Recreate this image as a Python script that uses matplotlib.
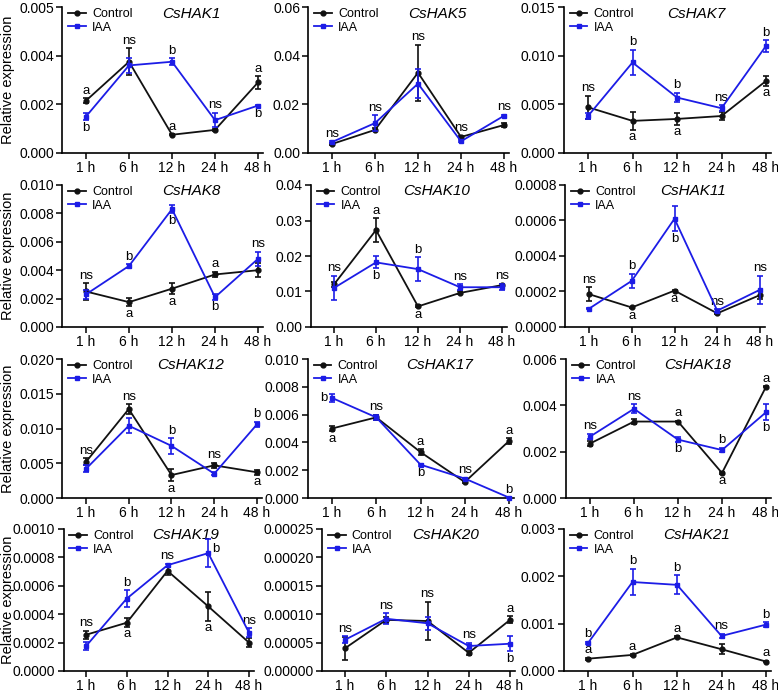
import matplotlib
matplotlib.use("Agg")
import matplotlib.pyplot as plt
from matplotlib.lines import Line2D
import numpy as np

plt.rcParams['font.family'] = ['Liberation Sans', 'DejaVu Sans']

times = ["1 h", "6 h", "12 h", "24 h", "48 h"]

# mean and SD: control (c) and IAA (i)
hak1_c = [0.00215, 0.00375, 0.00075, 0.00095, 0.0029]
hak1_c_sd = [0.0001, 0.00055, 0.00003, 0.00003, 0.00025]
hak1_i = [0.0015, 0.0036, 0.00375, 0.00135, 0.00195]
hak1_i_sd = [0.00015, 0.0003, 0.00015, 0.0003, 0.00003]
hak1_ticks = ["0.000", "0.002", "0.004", "0.005"]

hak5_c = [0.0037, 0.0095, 0.033, 0.0066, 0.0115]
hak5_c_sd = [0.0004, 0.0006, 0.0115, 0.0005, 0.001]
hak5_i = [0.0045, 0.0123, 0.0285, 0.0048, 0.0153]
hak5_i_sd = [0.0004, 0.0033, 0.006, 0.0004, 0.0004]
hak5_ticks = ["0.00", "0.02", "0.04", "0.06"]

hak7_c = [0.0047, 0.0033, 0.0035, 0.0038, 0.0074]
hak7_c_sd = [0.0012, 0.0009, 0.0006, 0.0004, 0.0005]
hak7_i = [0.0038, 0.0093, 0.0057, 0.0046, 0.011]
hak7_i_sd = [0.0003, 0.0013, 0.0005, 0.0003, 0.0006]
hak7_ticks = ["0.000", "0.005", "0.010", "0.015"]

hak8_c = [0.0025, 0.00175, 0.0027, 0.0037, 0.004]
hak8_c_sd = [0.0006, 0.0003, 0.0004, 0.0002, 0.0005]
hak8_i = [0.0023, 0.0043, 0.0083, 0.0021, 0.0048]
hak8_i_sd = [0.0003, 0.00012, 0.0003, 0.0002, 0.0005]
hak8_ticks = ["0.000", "0.002", "0.004", "0.006", "0.008", "0.010"]

hak10_c = [0.012, 0.0273, 0.0058, 0.0096, 0.0118]
hak10_c_sd = [0.0008, 0.0034, 0.0003, 0.0004, 0.0004]
hak10_i = [0.011, 0.0182, 0.0163, 0.0112, 0.0112]
hak10_i_sd = [0.0034, 0.0017, 0.0034, 0.0009, 0.0008]
hak10_ticks = ["0.00", "0.01", "0.02", "0.03", "0.04"]

hak11_c = [0.000185, 0.00011, 0.000205, 0.000077, 0.00018]
hak11_c_sd = [0.00004, 0.000005, 0.000003, 0.000005, 0.00002]
hak11_i = [0.000103, 0.00026, 0.00061, 0.000092, 0.00021]
hak11_i_sd = [0.000003, 0.00004, 0.00007, 0.000008, 0.00008]
hak11_ticks = ["0.0000", "0.0002", "0.0004", "0.0006", "0.0008"]

hak12_c = [0.0052, 0.0128, 0.0033, 0.0047, 0.0037]
hak12_c_sd = [0.0005, 0.0007, 0.0009, 0.0004, 0.0004]
hak12_i = [0.0042, 0.0104, 0.0075, 0.0035, 0.0106]
hak12_i_sd = [0.0005, 0.0011, 0.0011, 0.0002, 0.0004]
hak12_ticks = ["0.000", "0.005", "0.010", "0.015", "0.020"]

hak17_c = [0.005, 0.0058, 0.0033, 0.00115, 0.0041]
hak17_c_sd = [0.0002, 0.0002, 0.0002, 0.0001, 0.0002]
hak17_i = [0.0072, 0.0058, 0.0024, 0.0014, 0.00003]
hak17_i_sd = [0.0003, 0.0002, 0.00008, 0.00005, 0.00002]
hak17_ticks = ["0.000", "0.002", "0.004", "0.006", "0.008", "0.010"]

hak18_c = [0.00235, 0.0033, 0.0033, 0.00108, 0.0048]
hak18_c_sd = [0.0001, 0.00012, 0.00003, 0.00003, 0.00003]
hak18_i = [0.00265, 0.00385, 0.00252, 0.00207, 0.0037]
hak18_i_sd = [0.00012, 0.0002, 0.0001, 0.0001, 0.00035]
hak18_ticks = ["0.000", "0.002", "0.004", "0.006"]

hak19_c = [0.000255, 0.00034, 0.000705, 0.000455, 0.0002]
hak19_c_sd = [0.00003, 0.00003, 0.00003, 0.0001, 0.00003]
hak19_i = [0.000175, 0.00051, 0.000745, 0.00083, 0.00027]
hak19_i_sd = [0.00003, 0.00006, 0.00001, 0.0001, 0.00003]
hak19_ticks = ["0.0000", "0.0002", "0.0004", "0.0006", "0.0008", "0.0010"]

hak20_c = [0.00004, 0.00009, 0.000088, 0.000032, 0.00009]
hak20_c_sd = [0.00002, 0.000005, 0.000034, 0.000003, 0.000006]
hak20_i = [0.000055, 0.000092, 0.000084, 0.000044, 0.000048]
hak20_i_sd = [0.000006, 0.00001, 0.000011, 0.000006, 0.000013]
hak20_ticks = ["0.00000", "0.00005", "0.00010", "0.00015", "0.00020", "0.00025"]

hak21_c = [0.00026, 0.00034, 0.00071, 0.00046, 0.0002]
hak21_c_sd = [0.00002, 0.00002, 0.00002, 0.0001, 0.00002]
hak21_i = [0.00059, 0.00188, 0.00182, 0.00074, 0.00098]
hak21_i_sd = [0.00003, 0.00028, 0.0002, 0.00005, 0.00005]
hak21_ticks = ["0.000", "0.001", "0.002", "0.003"]

# significance letters: (time index, series, side, text)
hak1_notes = [(0, 'c', 'up', 'a'), (0, 'i', 'down', 'b'), (1, 'c', 'up', 'ns'), (2, 'i', 'up', 'b'),
              (2, 'c', 'up', 'a'), (3, 'i', 'up', 'ns'), (4, 'c', 'up', 'a'), (4, 'i', 'down', 'b')]
hak5_notes = [(0, 'i', 'up', 'ns'), (1, 'i', 'up', 'ns'), (2, 'c', 'up', 'ns'), (3, 'c', 'up', 'ns'),
              (4, 'i', 'up', 'ns')]
hak7_notes = [(0, 'c', 'up', 'ns'), (1, 'i', 'up', 'b'), (1, 'c', 'down', 'a'), (2, 'i', 'up', 'b'),
              (2, 'c', 'down', 'a'), (3, 'i', 'up', 'ns'), (4, 'i', 'up', 'b'), (4, 'c', 'down', 'a')]
hak8_notes = [(0, 'c', 'up', 'ns'), (1, 'i', 'up', 'b'), (1, 'c', 'down', 'a'), (2, 'i', 'down', 'b'),
              (2, 'c', 'down', 'a'), (3, 'c', 'up', 'a'), (3, 'i', 'down', 'b'), (4, 'i', 'up', 'ns')]
hak10_notes = [(0, 'i', 'up', 'ns'), (1, 'c', 'up', 'a'), (1, 'i', 'down', 'b'), (2, 'i', 'up', 'b'),
               (2, 'c', 'down', 'a'), (3, 'i', 'up', 'ns'), (4, 'c', 'up', 'ns')]
hak11_notes = [(0, 'c', 'up', 'ns'), (1, 'i', 'up', 'b'), (1, 'c', 'down', 'a'), (2, 'i', 'down', 'b'),
               (2, 'c', 'down', 'a'), (3, 'i', 'up', 'ns'), (4, 'i', 'up', 'ns')]
hak12_notes = [(0, 'c', 'up', 'ns'), (1, 'c', 'up', 'ns'), (2, 'i', 'up', 'b'), (2, 'c', 'down', 'a'),
               (3, 'c', 'up', 'ns'), (4, 'i', 'up', 'b'), (4, 'c', 'down', 'a')]
hak17_notes = [(0, 'i', 'left', 'b'), (0, 'c', 'down', 'a'), (1, 'c', 'up', 'ns'), (2, 'c', 'up', 'a'),
               (2, 'i', 'down', 'b'), (3, 'i', 'up', 'ns'), (4, 'c', 'up', 'a'), (4, 'i', 'up', 'b')]
hak18_notes = [(0, 'i', 'up', 'ns'), (1, 'i', 'up', 'ns'), (2, 'c', 'up', 'a'), (2, 'i', 'down', 'b'),
               (3, 'i', 'up', 'b'), (3, 'c', 'down', 'a'), (4, 'c', 'up', 'a'), (4, 'i', 'down', 'b')]
hak19_notes = [(0, 'c', 'up', 'ns'), (1, 'i', 'up', 'b'), (1, 'c', 'down', 'a'), (2, 'i', 'up', 'ns'),
               (3, 'i', 'right', 'b'), (3, 'c', 'down', 'a'), (4, 'i', 'up', 'ns')]
hak20_notes = [(0, 'i', 'up', 'ns'), (1, 'i', 'up', 'ns'), (2, 'c', 'up', 'ns'), (3, 'i', 'up', 'ns'),
               (4, 'c', 'up', 'a'), (4, 'i', 'down', 'b')]
hak21_notes = [(0, 'i', 'up', 'b'), (0, 'c', 'up', 'a'), (1, 'i', 'up', 'b'), (1, 'c', 'up', 'a'),
               (2, 'i', 'up', 'b'), (2, 'c', 'up', 'a'), (3, 'i', 'up', 'ns'), (4, 'i', 'up', 'b'),
               (4, 'c', 'up', 'a')]

panels = [
    ("CsHAK1", hak1_c, hak1_c_sd, hak1_i, hak1_i_sd, 0.006, hak1_ticks, hak1_notes),
    ("CsHAK5", hak5_c, hak5_c_sd, hak5_i, hak5_i_sd, 0.06, hak5_ticks, hak5_notes),
    ("CsHAK7", hak7_c, hak7_c_sd, hak7_i, hak7_i_sd, 0.015, hak7_ticks, hak7_notes),
    ("CsHAK8", hak8_c, hak8_c_sd, hak8_i, hak8_i_sd, 0.010, hak8_ticks, hak8_notes),
    ("CsHAK10", hak10_c, hak10_c_sd, hak10_i, hak10_i_sd, 0.04, hak10_ticks, hak10_notes),
    ("CsHAK11", hak11_c, hak11_c_sd, hak11_i, hak11_i_sd, 0.0008, hak11_ticks, hak11_notes),
    ("CsHAK12", hak12_c, hak12_c_sd, hak12_i, hak12_i_sd, 0.020, hak12_ticks, hak12_notes),
    ("CsHAK17", hak17_c, hak17_c_sd, hak17_i, hak17_i_sd, 0.010, hak17_ticks, hak17_notes),
    ("CsHAK18", hak18_c, hak18_c_sd, hak18_i, hak18_i_sd, 0.006, hak18_ticks, hak18_notes),
    ("CsHAK19", hak19_c, hak19_c_sd, hak19_i, hak19_i_sd, 0.0010, hak19_ticks, hak19_notes),
    ("CsHAK20", hak20_c, hak20_c_sd, hak20_i, hak20_i_sd, 0.00025, hak20_ticks, hak20_notes),
    ("CsHAK21", hak21_c, hak21_c_sd, hak21_i, hak21_i_sd, 0.003, hak21_ticks, hak21_notes),
]

W, H = 778, 690
rows_px = [(7, 153), (185, 327), (359, 498), (529, 671)]
# pixel x of the "1 h" and "48 h" ticks for every panel
cols_px = [
    [(86, 258), (332, 504), (588, 766)],
    [(86, 258), (334, 502), (589, 760)],
    [(86, 257), (332, 509), (590, 766)],
    [(86, 249), (345, 510), (588, 766)],
]
XLO, XHI = -0.55, 4.12

BLACK = "#111111"
BLUE = "#1c1ce6"

fig = plt.figure(figsize=(W / 100, H / 100), dpi=100)
x = np.arange(len(times))

handles = [
    Line2D([], [], color=BLACK, marker='o', ms=3.5, lw=1.3, label="Control"),
    Line2D([], [], color=BLUE, marker='s', ms=2.6, lw=1.3, label="IAA"),
]

for k, (name, c, csd, iv, isd, ytop, ylabels, notes) in enumerate(panels):
    r, col = divmod(k, 3)
    top, bot = rows_px[r]
    p1, p48 = cols_px[r][col]
    unit = (p48 - p1) / 4
    left = p1 + XLO * unit
    right = p1 + XHI * unit
    ax = fig.add_axes([left / W, 1 - bot / H, (right - left) / W, (bot - top) / H])

    ax.errorbar(x, c, yerr=csd, color=BLACK, marker='o', ms=3.5, lw=1.3,
                elinewidth=1.2, capsize=2.3, capthick=1.2, clip_on=False, zorder=3)
    ax.errorbar(x, iv, yerr=isd, color=BLUE, marker='s', ms=2.6, lw=1.3,
                elinewidth=1.2, capsize=2.3, capthick=1.2, clip_on=False, zorder=4)

    ax.set_xlim(XLO, XHI)
    ax.set_ylim(0, ytop)
    ax.set_xticks(x)
    ax.set_xticklabels(times)
    ax.set_yticks(np.linspace(0, ytop, len(ylabels)))
    ax.set_yticklabels(ylabels)
    ax.tick_params(direction='out', length=4, width=1.1, labelsize=10, pad=2)
    for s in ['top', 'right']:
        ax.spines[s].set_visible(False)
    for s in ['left', 'bottom']:
        ax.spines[s].set_linewidth(1.2)

    ax.text(0.64, 0.955, name, transform=ax.transAxes, ha='center', va='center',
            fontsize=11, style='italic')
    ax.legend(handles=handles, loc='upper left', bbox_to_anchor=(0.03, 0.99), frameon=False,
              fontsize=9, handlelength=1.4, handletextpad=0.5, labelspacing=0.1,
              borderaxespad=0, borderpad=0)

    for (t, ser, side, txt) in notes:
        m = c[t] if ser == 'c' else iv[t]
        e = csd[t] if ser == 'c' else isd[t]
        if side == 'up':
            ax.annotate(txt, (t, m + e), xytext=(0, 1), textcoords='offset points',
                        ha='center', va='bottom', fontsize=9.5, annotation_clip=False)
        elif side == 'down':
            ax.annotate(txt, (t, m - e), xytext=(0, -1), textcoords='offset points',
                        ha='center', va='top', fontsize=9.5, annotation_clip=False)
        elif side == 'left':
            ax.annotate(txt, (t, m), xytext=(-3, 0), textcoords='offset points',
                        ha='right', va='center', fontsize=9.5, annotation_clip=False)
        else:
            ax.annotate(txt, (t, m), xytext=(3, 3), textcoords='offset points',
                        ha='left', va='center', fontsize=9.5, annotation_clip=False)

    if col == 0:
        fig.text(8 / W, 1 - (top + bot) / 2 / H, "Relative expression", rotation=90,
                 ha='center', va='center', fontsize=10.5)

fig.savefig("out.png", dpi=100)
